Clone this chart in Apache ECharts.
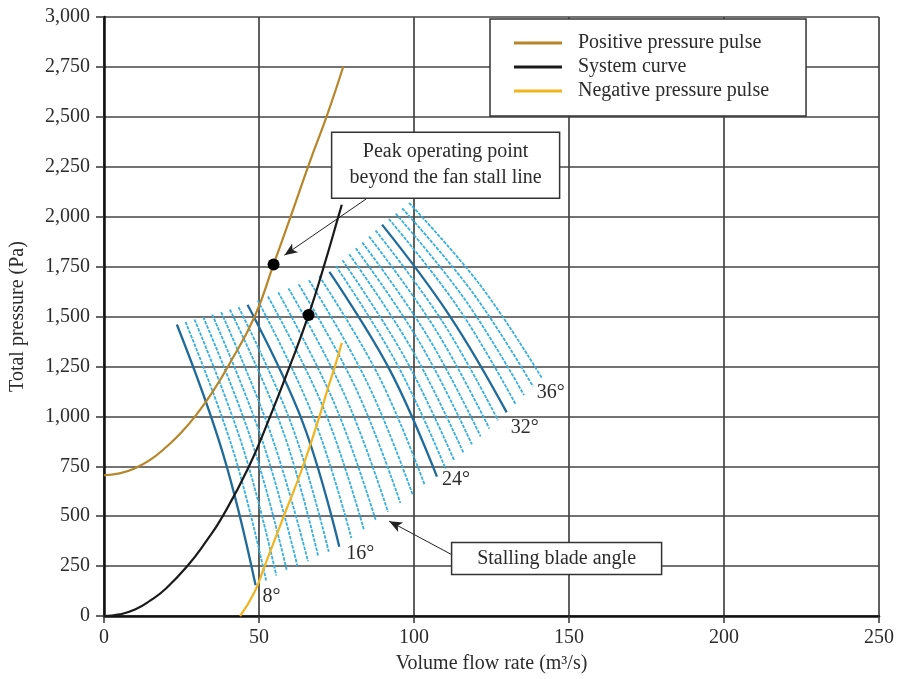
<!DOCTYPE html>
<html>
<head>
<meta charset="utf-8">
<script src="https://cdn.jsdelivr.net/npm/echarts@6/dist/echarts.min.js"></script>
<style>
  html, body { margin: 0; padding: 0; background: #fff; }
  #chart { width: 897px; height: 679px; }
</style>
</head>
<body>
<div id="chart"></div>
<script>
// Axis ticks
const xTicks = [0, 50, 100, 150, 200, 250];
const yTicks = [0, 250, 500, 750, 1000, 1250, 1500, 1750, 2000, 2250, 2500, 2750, 3000];

// Pressure curves: [flow m³/s, pressure Pa]
const positivePulse = [[0, 705], [5, 714], [10, 740], [15, 783], [20, 845], [25, 920], [30, 1012],
  [35, 1122], [40, 1250], [48.6, 1500], [54.7, 1761], [60.2, 2000], [66.5, 2280], [72, 2510], [77.2, 2752]];
const systemCurve = [[0, 0], [5, 8], [10, 32], [15, 78], [20, 138], [26.9, 250], [33, 375], [38.3, 500],
  [46.8, 750], [53.6, 1000], [59.9, 1250], [66, 1508], [70.9, 1750], [75.6, 2000], [76.7, 2060]];
const negativePulse = [[43.9, 0], [48.6, 122], [51.8, 250], [58.0, 500], [64.2, 750], [69.5, 1000],
  [72, 1129], [74.5, 1250], [76.7, 1368]];

// Operating points
const operatingPoints = [[54.7, 1761], [66.0, 1508]];

// Fan characteristics per blade angle (top of curve at stall line, middle, bottom end)
const bladeAngles = [8, 9, 10, 11, 12, 13, 14, 15, 16, 17, 18, 19, 20, 21, 22, 23, 24,
  25, 26, 27, 28, 29, 30, 31, 32, 33, 34, 35, 36];
const bladeCurves = [
  [[23.5, 1460], [38.3, 817], [48.9, 154]],
  [[26.3, 1473], [41.5, 836], [52.3, 178]],
  [[29.2, 1485], [44.6, 854], [55.6, 202]],
  [[32.0, 1498], [47.7, 872], [59.0, 226]],
  [[34.9, 1510], [50.8, 891], [62.4, 250]],
  [[37.8, 1522], [53.9, 909], [65.8, 274]],
  [[40.6, 1535], [57.6, 932], [69.1, 299]],
  [[43.4, 1547], [60.7, 950], [72.5, 322]],
  [[46.3, 1559], [64.1, 970], [75.9, 347]],
  [[49.6, 1580], [67.4, 1002], [79.8, 391]],
  [[52.9, 1600], [71.0, 1034], [83.8, 434]],
  [[56.2, 1621], [74.3, 1065], [87.7, 478]],
  [[59.5, 1641], [77.9, 1098], [91.6, 522]],
  [[62.8, 1661], [81.5, 1131], [95.6, 566]],
  [[66.1, 1682], [85.1, 1163], [99.5, 610]],
  [[69.4, 1703], [88.8, 1196], [103.5, 654]],
  [[72.7, 1723], [92.3, 1229], [107.4, 698]],
  [[74.8, 1753], [94.5, 1262], [110.2, 738]],
  [[76.9, 1782], [96.9, 1297], [113.0, 778]],
  [[79.1, 1812], [99.4, 1333], [115.9, 819]],
  [[81.2, 1842], [101.9, 1368], [118.7, 859]],
  [[83.3, 1871], [104.3, 1403], [121.5, 899]],
  [[85.5, 1901], [106.8, 1438], [124.3, 939]],
  [[87.6, 1931], [109.2, 1474], [127.1, 980]],
  [[89.7, 1960], [111.4, 1506], [129.9, 1020]],
  [[91.9, 1988], [114.2, 1545], [132.7, 1063]],
  [[94.1, 2015], [116.6, 1581], [135.5, 1106]],
  [[96.2, 2042], [119.1, 1616], [138.4, 1150]],
  [[98.4, 2069], [121.6, 1652], [141.2, 1193]]
];
const majorAngles = [8, 16, 24, 32];
const labelledAngles = [8, 16, 24, 32, 36];
// label placement next to each labelled curve end (px offset)
const angleLabelOffset = { 8: [7, 11], 16: [7, 7], 24: [5, 3], 32: [4, 15], 36: [-5, 15] };

// Callouts (data coordinates)
const peakNoteAt = [110.2, 2258];
const peakArrow = [[84.6, 2089], [58.2, 1807]];
const stallNoteAt = [146.0, 288];
const stallArrow = [[112.2, 307], [92.0, 475]];

const FONT = '"Liberation Serif", "Times New Roman", serif';
const TEXT = '#2b2b2b';
const fmt = v => String(v).replace(/\B(?=(\d{3})+(?!\d))/g, ',');

const chart = echarts.init(document.getElementById('chart'), null, { renderer: 'canvas' });

const bladeSeries = bladeAngles.map((a, i) => {
  const major = majorAngles.includes(a);
  return {
    type: 'line',
    name: a + '°',
    data: bladeCurves[i],
    smooth: 0.4,
    symbol: 'none',
    silent: true,
    z: major ? 3 : 2,
    lineStyle: major
      ? { color: '#1f6c9c', width: 2.3 }
      : { color: '#38b0de', width: 1.8, type: [3.5, 1.2] }
  };
});

chart.setOption({
  animation: false,
  textStyle: { fontFamily: FONT },
  grid: { left: 104, right: 16, top: 17, bottom: 56, containLabel: false },
  legend: {
    data: ['Positive pressure pulse', 'System curve', 'Negative pressure pulse'],
    orient: 'vertical',
    left: 490,
    top: 19,
    padding: [14, 37, 15, 24],
    icon: 'rect',
    itemWidth: 48,
    itemHeight: 3,
    itemGap: 4,
    backgroundColor: '#fff',
    borderColor: '#333',
    borderWidth: 1.5,
    borderRadius: 0,
    selectedMode: false,
    textStyle: { fontFamily: FONT, fontSize: 20, lineHeight: 20, color: TEXT, padding: [0, 0, 0, 11] }
  },
  xAxis: {
    type: 'value',
    min: xTicks[0],
    max: xTicks[xTicks.length - 1],
    interval: 50,
    name: 'Volume flow rate (m³/s)',
    nameLocation: 'middle',
    nameGap: 38,
    nameTextStyle: { fontFamily: FONT, fontSize: 20, color: TEXT },
    axisLine: { show: true, onZero: false, lineStyle: { color: '#111', width: 2.5 } },
    axisTick: { show: true, length: 7, lineStyle: { color: '#333', width: 1.5 } },
    axisLabel: { fontFamily: FONT, fontSize: 20, color: TEXT, margin: 12, formatter: fmt },
    splitLine: { show: true, lineStyle: { color: '#444', width: 1.7 } }
  },
  yAxis: {
    type: 'value',
    min: yTicks[0],
    max: yTicks[yTicks.length - 1],
    interval: 250,
    name: 'Total pressure (Pa)',
    nameLocation: 'middle',
    nameGap: 76,
    nameTextStyle: { fontFamily: FONT, fontSize: 20, color: TEXT },
    axisLine: { show: true, onZero: false, lineStyle: { color: '#111', width: 2.5 } },
    axisTick: { show: true, length: 8, lineStyle: { color: '#333', width: 1.5 } },
    axisLabel: { fontFamily: FONT, fontSize: 20, color: TEXT, margin: 14, formatter: fmt },
    splitLine: { show: true, lineStyle: { color: '#444', width: 1.7 } }
  },
  series: bladeSeries.concat([
    {
      type: 'line', name: 'Negative pressure pulse', data: negativePulse,
      smooth: 0.5, symbol: 'none', z: 5,
      lineStyle: { color: '#efb41e', width: 2.2 }, itemStyle: { color: '#efb41e' }
    },
    {
      type: 'line', name: 'System curve', data: systemCurve,
      smooth: 0.5, symbol: 'none', z: 6,
      lineStyle: { color: '#1a1a1a', width: 2.2 }, itemStyle: { color: '#1a1a1a' }
    },
    {
      type: 'line', name: 'Positive pressure pulse', data: positivePulse,
      smooth: 0.5, symbol: 'none', z: 6,
      lineStyle: { color: '#b8862a', width: 2.2 }, itemStyle: { color: '#b8862a' }
    },
    {
      type: 'scatter', name: 'Operating point', data: operatingPoints,
      symbolSize: 12, z: 8, silent: true,
      itemStyle: { color: '#000', opacity: 1 },
      markLine: {
        silent: true,
        symbol: ['none', 'arrow'],
        symbolSize: [8, 13],
        label: { show: false },
        lineStyle: { color: '#222', width: 1, type: 'solid' },
        data: [
          [{ coord: peakArrow[0] }, { coord: peakArrow[1] }],
          [{ coord: stallArrow[0] }, { coord: stallArrow[1] }]
        ]
      }
    }
  ])
});

// Callout boxes and blade-angle labels, placed from data coordinates
const toPx = p => chart.convertToPixel({ gridIndex: 0 }, p);
const graphics = [];

function noteBox(at, w, h, text) {
  const c = toPx(at);
  graphics.push({
    type: 'rect', z: 20,
    shape: { x: c[0] - w / 2, y: c[1] - h / 2, width: w, height: h },
    style: { fill: '#fff', stroke: '#333', lineWidth: 1.5 }
  });
  graphics.push({
    type: 'text', z: 21,
    style: {
      text: text, x: c[0], y: c[1],
      align: 'center', verticalAlign: 'middle',
      textAlign: 'center', textVerticalAlign: 'middle',
      font: '20px ' + FONT, fill: TEXT, lineHeight: 26
    }
  });
}
noteBox(peakNoteAt, 228, 66, 'Peak operating point\nbeyond the fan stall line');
noteBox(stallNoteAt, 210, 32, 'Stalling blade angle');

labelledAngles.forEach(a => {
  const curve = bladeCurves[bladeAngles.indexOf(a)];
  const end = toPx(curve[curve.length - 1]);
  const off = angleLabelOffset[a];
  graphics.push({
    type: 'text', z: 21,
    style: {
      text: a + '°', x: end[0] + off[0], y: end[1] + off[1],
      align: 'left', verticalAlign: 'middle',
      textAlign: 'left', textVerticalAlign: 'middle',
      font: '20px ' + FONT, fill: TEXT
    }
  });
});

chart.setOption({ graphic: { elements: graphics } });
</script>
</body>
</html>
